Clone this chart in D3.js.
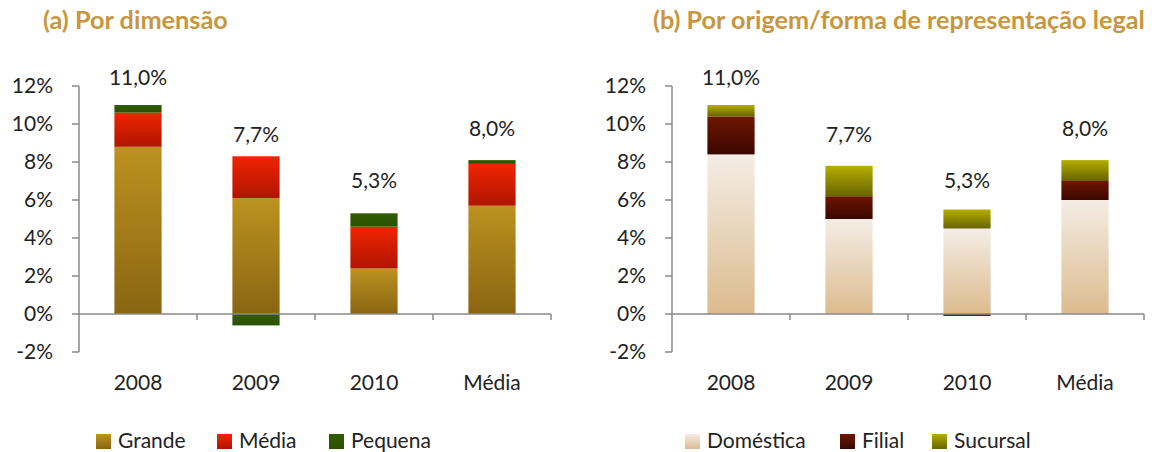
<!DOCTYPE html>
<html><head><meta charset="utf-8">
<script src="https://cdn.jsdelivr.net/npm/d3@7"></script>
<style>
html,body{margin:0;padding:0;background:#fff;}
text{font-family:Lato,"Open Sans",sans-serif;}
</style></head>
<body>
<svg id="chart" width="1152" height="452"></svg>
<script>
// ---- Data ----
const categories = ["2008", "2009", "2010", "Média"];
const yTicks = [-2, 0, 2, 4, 6, 8, 10, 12];

const titleA = "(a) Por dimensão";
const seriesA = ["Grande", "Média", "Pequena"];
const grande = [8.8, 6.1, 2.4, 5.7];
const mediaSerie = [1.8, 2.2, 2.2, 2.2];
const pequena = [0.4, -0.6, 0.7, 0.2];
const totalsA = [11.0, 7.7, 5.3, 8.0];

const titleB = "(b) Por origem/forma de representação legal";
const seriesB = ["Doméstica", "Filial", "Sucursal"];
const domestica = [8.4, 5.0, 4.5, 6.0];
const filial = [2.0, 1.2, -0.1, 1.0];
const sucursal = [0.6, 1.6, 1.0, 1.1];
const totalsB = [11.0, 7.7, 5.3, 8.0];

// ---- Styles ----
const gradA = [["#BC9220", "#8A6512"], ["#F02400", "#B01500"], ["#305C00", "#2B5200"]];
const gradB = [["#F4EDE5", "#DCBB8E"], ["#6E1600", "#3A0700"], ["#B4AE00", "#686400"]];
const textColor = "#222222";
const axisColor = "#8a8a8a";
const fs = 21;

const svg = d3.select("#chart");
const defs = svg.append("defs");

function makeGrad(id, c) {
  const g = defs.append("linearGradient").attr("id", id)
    .attr("x1", 0).attr("y1", 0).attr("x2", 0).attr("y2", 1);
  g.append("stop").attr("offset", "0%").attr("stop-color", c[0]);
  g.append("stop").attr("offset", "100%").attr("stop-color", c[1]);
}

function fitTitle(el, target) {
  const w = el.node().getComputedTextLength();
  el.attr("font-size", 18 * target / w);
}

function panel(cfg) {
  const { x0, x1, title, titleX, titleW, names, data, totals, grads, prefix, legend } = cfg;
  grads.forEach((c, i) => makeGrad(prefix + i, c));

  const y = d3.scaleLinear().domain([-2, 12]).range([352, 86]);
  const x = d3.scaleBand().domain(categories).range([x0, x1]).paddingInner(0.6).paddingOuter(0.3);
  const g = svg.append("g");

  // title
  const t = g.append("text").attr("x", titleX).attr("y", 20).attr("dy", "0.35em")
    .attr("font-weight", "bold").attr("fill", "#C8963E").attr("font-size", 18).text(title);
  fitTitle(t, titleW);

  // stacked bars
  const rows = categories.map((c, i) => {
    const r = { cat: c };
    names.forEach((n, k) => r[n] = data[k][i]);
    return r;
  });
  const stack = d3.stack().keys(names).offset(d3.stackOffsetDiverging)(rows);
  stack.forEach((layer, k) => {
    g.append("g").selectAll("rect").data(layer).join("rect")
      .attr("x", d => x(d.data.cat))
      .attr("width", x.bandwidth())
      .attr("y", d => y(Math.max(d[0], d[1])))
      .attr("height", d => Math.abs(y(d[0]) - y(d[1])))
      .attr("fill", `url(#${prefix}${k})`);
  });

  // axes
  const axisG = g.append("g");
  axisG.append("line").attr("x1", x0).attr("x2", x0).attr("y1", y(12)).attr("y2", y(-2))
    .attr("stroke", axisColor).attr("stroke-width", 1.5);
  axisG.append("line").attr("x1", x0).attr("x2", x1).attr("y1", y(0)).attr("y2", y(0))
    .attr("stroke", axisColor).attr("stroke-width", 1.5);
  axisG.selectAll(".yt").data(yTicks).join("line")
    .attr("x1", x0 - 7).attr("x2", x0).attr("y1", d => y(d)).attr("y2", d => y(d))
    .attr("stroke", axisColor).attr("stroke-width", 1.5);
  const bounds = categories.map(c => x(c) - (x.step() - x.bandwidth()) / 2).slice(1).concat([x1]);
  axisG.selectAll(".xt").data(bounds).join("line")
    .attr("x1", d => d).attr("x2", d => d).attr("y1", y(0)).attr("y2", y(0) + 6)
    .attr("stroke", axisColor).attr("stroke-width", 1.5);

  axisG.selectAll(".yl").data(yTicks).join("text")
    .attr("x", x0 - 26).attr("y", d => y(d)).attr("dy", "0.35em")
    .attr("text-anchor", "end").attr("font-size", fs).attr("fill", textColor)
    .text(d => d + "%");
  axisG.selectAll(".xl").data(categories).join("text")
    .attr("x", d => x(d) + x.bandwidth() / 2).attr("y", 383).attr("dy", "0.35em")
    .attr("text-anchor", "middle").attr("font-size", fs).attr("fill", textColor)
    .text(d => d);

  // totals labels
  g.selectAll(".tl").data(totals).join("text")
    .attr("x", (d, i) => x(categories[i]) + x.bandwidth() / 2)
    .attr("y", d => Math.max(y(d) - 33, 78)).attr("dy", "0.35em")
    .attr("text-anchor", "middle").attr("font-size", fs).attr("fill", textColor)
    .text(d => d.toFixed(1).replace(".", ",") + "%");

  // legend
  const lg = g.append("g");
  names.forEach((n, k) => {
    lg.append("rect").attr("x", legend[k]).attr("y", 434).attr("width", 15).attr("height", 15)
      .attr("fill", `url(#${prefix}${k})`);
    lg.append("text").attr("x", legend[k] + 22).attr("y", 441).attr("dy", "0.35em")
      .attr("font-size", fs).attr("fill", textColor).text(n);
  });
}

panel({ x0: 79, x1: 551, title: titleA, titleX: 43, titleW: 185, names: seriesA,
  data: [grande, mediaSerie, pequena], totals: totalsA, grads: gradA, prefix: "ga", legend: [96, 217, 329] });
panel({ x0: 672, x1: 1144, title: titleB, titleX: 653, titleW: 492, names: seriesB,
  data: [domestica, filial, sucursal], totals: totalsB, grads: gradB, prefix: "gb", legend: [685, 840, 932] });
</script>
</body></html>
